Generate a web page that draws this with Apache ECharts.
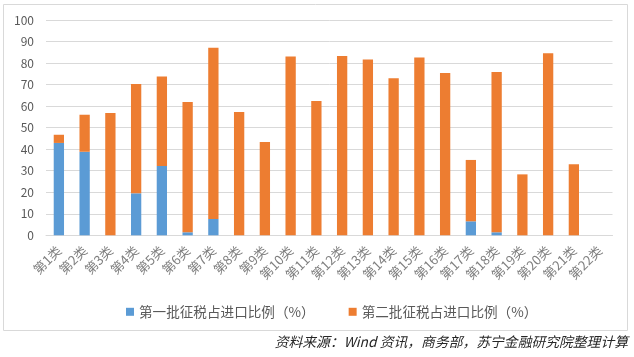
<!DOCTYPE html>
<html><head><meta charset="utf-8">
<script src="https://cdn.jsdelivr.net/npm/echarts@6/dist/echarts.min.js"></script>
<style>html,body{margin:0;padding:0;background:#fff}#c{width:634px;height:357px}</style>
</head><body><div id="c"></div>
<script>
const categories = ['第1类','第2类','第3类','第4类','第5类','第6类','第7类','第8类','第9类','第10类','第11类','第12类','第13类','第14类','第15类','第16类','第17类','第18类','第19类','第20类','第21类','第22类'];
const firstBatch = [42.9,38.8,0,19.5,32.2,1.4,7.6,0,0,0,0,0,0,0,0,0,6.5,1.4,0,0,0,0];
const secondBatch = [3.8,17.2,56.8,50.8,41.5,60.5,79.5,57.3,43.3,83.0,62.4,83.3,81.7,72.9,82.6,75.4,28.5,74.4,28.3,84.6,33.0,0];
const yTicks = [0,10,20,30,40,50,60,70,80,90,100];
const seriesNames = ['第一批征税占进口比例（%）','第二批征税占进口比例（%）'];
const sourceText = '资料来源：Wind 资讯，商务部，苏宁金融研究院整理计算';

const chart = echarts.init(document.getElementById('c'));
const ff = '"Microsoft YaHei","Noto Sans CJK SC",sans-serif';
chart.setOption({
  animation:false,
  textStyle:{fontFamily:ff},
  graphic:[
    {type:'rect',shape:{x:3.5,y:4.5,width:624,height:326},style:{fill:'none',stroke:'#d9d9d9',lineWidth:1}},
    {type:'text',right:6,top:335,style:{text:sourceText,font:'italic 13.8px '+ff,fill:'#262626'}}
  ],
  legend:{
    top:300,left:121,itemWidth:8,itemHeight:8,itemGap:34,icon:'rect',
    textStyle:{fontSize:13.6,color:'#595959',fontFamily:ff},
    data:seriesNames
  },
  grid:{left:46,right:21.5,top:20,bottom:121.7},
  xAxis:{
    type:'category',data:categories,
    axisLine:{show:true,lineStyle:{color:'#d9d9d9'}},
    axisTick:{show:false},
    axisLabel:{rotate:45,interval:0,fontSize:13,color:'#7f7f7f',margin:13,fontFamily:ff}
  },
  yAxis:{
    type:'value',min:yTicks[0],max:yTicks[yTicks.length-1],interval:10,
    axisLine:{show:false},axisTick:{show:false},
    splitLine:{lineStyle:{color:'#d9d9d9'}},
    axisLabel:{fontSize:12,color:'#595959',margin:12,fontFamily:ff}
  },
  series:[
    {name:seriesNames[0],type:'bar',stack:'t',data:firstBatch,barWidth:'40%',itemStyle:{color:'#5B9BD5'}},
    {name:seriesNames[1],type:'bar',stack:'t',data:secondBatch,barWidth:'40%',itemStyle:{color:'#ED7D31'}}
  ]
});
</script></body></html>
